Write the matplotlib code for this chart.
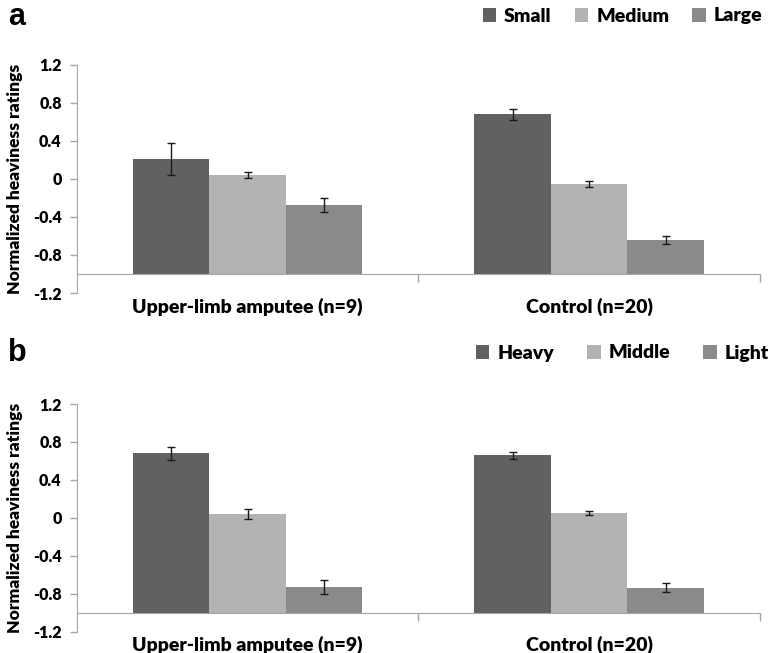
import matplotlib
matplotlib.use("Agg")
import matplotlib.pyplot as plt
import numpy as np
from matplotlib.patches import Patch
from matplotlib.transforms import blended_transform_factory

plt.rcParams['font.family'] = ['Lato', 'DejaVu Sans']
plt.rcParams['font.weight'] = 'heavy'
W = 'heavy'

groups = ["Upper-limb amputee (n=9)", "Control (n=20)"]
ytick_vals = [1.2, 0.8, 0.4, 0.0, -0.4, -0.8, -1.2]
ytick_labels = ["1.2", "0.8", "0.4", "0", "-0.4", "-0.8", "-1.2"]

# Panel a: size categories
a_series = ["Small", "Medium", "Large"]
a_values = [[0.21, 0.68], [0.04, -0.05], [-0.27, -0.64]]
a_errors = [[0.165, 0.055], [0.03, 0.03], [0.075, 0.04]]

# Panel b: weight categories
b_series = ["Heavy", "Middle", "Light"]
b_values = [[0.68, 0.66], [0.04, 0.05], [-0.73, -0.735]]
b_errors = [[0.07, 0.035], [0.05, 0.02], [0.075, 0.045]]

colors = ["#616161", "#b3b3b3", "#8a8a8a"]
base = -1.0
spine_col = "#a6a6a6"

fig = plt.figure(figsize=(7.8, 6.53), dpi=100)

def draw(rect, series, values, errors, letter, letter_y, legend_x, legend_y, colsp):
    ax = fig.add_axes(rect)
    x = np.arange(len(groups))
    w = 0.224
    for i, (s, v, e) in enumerate(zip(series, values, errors)):
        pos = x + (i - 1) * w
        heights = np.array(v) - base
        ax.bar(pos, heights, width=w, bottom=base, color=colors[i], edgecolor='none', zorder=2)
        ax.errorbar(pos, v, yerr=e, fmt='none', ecolor='#1a1a1a', elinewidth=1.0,
                    capsize=3, capthick=1.0, zorder=3)
    ax.set_xlim(-0.5, 1.5)
    ax.set_ylim(-1.2, 1.2)
    ax.set_yticks(ytick_vals)
    ax.set_yticklabels(ytick_labels, fontsize=11.5, fontweight=W)
    ax.tick_params(axis='y', direction='out', length=5, color=spine_col, width=1, pad=6)
    for sp in ['top', 'right']:
        ax.spines[sp].set_visible(False)
    ax.spines['left'].set_color(spine_col)
    ax.spines['bottom'].set_color(spine_col)
    ax.spines['bottom'].set_position(('data', base))
    ax.set_xticks([0.5, 1.5])
    ax.set_xticklabels([])
    ax.tick_params(axis='x', direction='out', length=6, color=spine_col, width=1)
    ax.set_ylabel("Normalized heaviness ratings", fontsize=12.5, fontweight=W, labelpad=7)
    trans = blended_transform_factory(ax.transData, ax.transAxes)
    for xi, g in zip(x, groups):
        ax.text(xi, -0.06, g, transform=trans, ha='center', va='center',
                fontsize=14, fontweight=W)
    fig.text(0.010, letter_y, letter, fontsize=22, fontweight='bold',
             family='Liberation Sans', va='center', ha='left')
    handles = [Patch(facecolor=c, edgecolor='none') for c in colors]
    fig.legend(handles, series, loc='center right', bbox_to_anchor=(legend_x, legend_y),
               ncol=3, frameon=False, handlelength=0.7, handleheight=0.7,
               handletextpad=0.4, columnspacing=colsp,
               prop={'weight': W, 'size': 14})
    return ax

draw([0.0987, 0.5513, 0.8756, 0.3492], a_series, a_values, a_errors, "a", 1 - 17/653,
     1.0, 1 - 16/653, 1.2)
draw([0.0987, 0.0326, 0.8756, 0.3487], b_series, b_values, b_errors, "b", 1 - 353/653,
     1.008, 1 - 353/653, 1.7)

fig.savefig("out.png", dpi=100)
